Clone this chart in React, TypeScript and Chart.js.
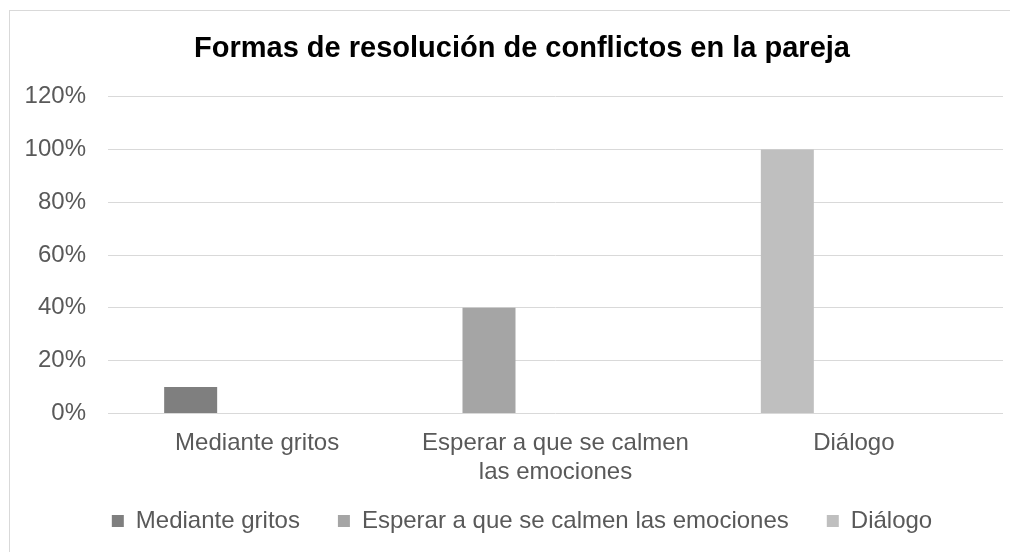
import React, { useEffect, useRef } from "react";
import { Chart, registerables } from "chart.js";

Chart.register(...registerables);

const categories: (string | string[])[] = [
  "Mediante gritos",
  ["Esperar a que se calmen", "las emociones"],
  "Diálogo",
];
const seriesNames = [
  "Mediante gritos",
  "Esperar a que se calmen las emociones",
  "Diálogo",
];
const gritosValues = [10, null, null];
const esperarValues = [null, 40, null];
const dialogoValues = [null, null, 100];
const spacerValues = [0, 0, 0];
const seriesColors = ["#7f7f7f", "#a5a5a5", "#bfbfbf"];
const yTicks = [0, 20, 40, 60, 80, 100, 120];
const titleText = "Formas de resolución de conflictos en la pareja";

const FONT = "'Liberation Sans', Arial, sans-serif";
const TEXT = "#595959";
const GRID = "#d9d9d9";
const X_SHRINK = 32;

const extendXLabelArea = {
  id: "extendXLabelArea",
  afterLayout(chart: any) {
    const s = chart.scales.x;
    if (s) s.bottom = s.bottom + X_SHRINK;
  },
};

export default function App() {
  const ref = useRef<HTMLCanvasElement | null>(null);

  useEffect(() => {
    document.documentElement.style.overflow = "hidden";
    document.body.style.overflow = "hidden";
    const canvas = ref.current;
    if (!canvas) return;
    const chart = new Chart(canvas, {
      type: "bar",
      data: {
        labels: categories as any,
        datasets: [
          { label: seriesNames[0], data: gritosValues as any, backgroundColor: seriesColors[0] },
          { label: seriesNames[1], data: esperarValues as any, backgroundColor: seriesColors[1] },
          { label: seriesNames[2], data: dialogoValues as any, backgroundColor: seriesColors[2] },
          { label: "", data: spacerValues, backgroundColor: "rgba(0,0,0,0)" },
        ],
      },
      plugins: [extendXLabelArea],
      options: {
        animation: false,
        responsive: false,
        maintainAspectRatio: false,
        devicePixelRatio: 1,
        skipNull: true,
        categoryPercentage: 0.8917,
        barPercentage: 0.3985,
        borderWidth: 0,
        layout: { padding: { left: 0, right: 0, top: 0, bottom: 9 } },
        plugins: {
          tooltip: { enabled: false },
          title: {
            display: true,
            text: titleText,
            color: "#000000",
            font: { family: FONT, size: 29, weight: "bold", lineHeight: 1.2 },
            padding: { top: 21, bottom: 30 },
          },
          legend: {
            display: true,
            position: "bottom",
            labels: {
              boxWidth: 12,
              boxHeight: 12,
              padding: 38,
              color: TEXT,
              font: { family: FONT, size: 24 },
              filter: (item: any) => item.datasetIndex < 3,
            },
          },
        },
        scales: {
          x: {
            grid: { display: false, drawTicks: false },
            border: { display: false },
            afterFit: (scale: any) => {
              scale.height = scale.height - X_SHRINK;
            },
            ticks: {
              color: TEXT,
              font: { family: FONT, size: 24, lineHeight: 1.2 },
              padding: 16,
              maxRotation: 0,
              autoSkip: false,
            },
          },
          y: {
            min: 0,
            max: 120,
            afterBuildTicks: (scale: any) => {
              scale.ticks = yTicks.map((v) => ({ value: v }));
            },
            afterFit: (scale: any) => {
              scale.width = 98;
            },
            grid: { color: GRID, lineWidth: 1, drawTicks: false },
            border: { display: false },
            ticks: {
              color: TEXT,
              font: { family: FONT, size: 24 },
              padding: 22,
              callback: (v: any) => `${v}%`,
            },
          },
          yRight: {
            type: "linear",
            position: "right",
            display: true,
            grid: { display: false, drawTicks: false },
            border: { display: false },
            ticks: { display: false },
            afterFit: (scale: any) => {
              scale.width = 31;
            },
          },
        },
      } as any,
    });
    return () => chart.destroy();
  }, []);

  return (
    <div
      style={{
        marginLeft: 1,
        marginTop: 2,
        width: 1040,
        height: 560,
        border: `1px solid ${GRID}`,
        background: "#ffffff",
        boxSizing: "content-box",
      }}
    >
      <canvas ref={ref} width={1024} height={541} style={{ display: "block", width: 1024, height: 541 }} />
    </div>
  );
}
